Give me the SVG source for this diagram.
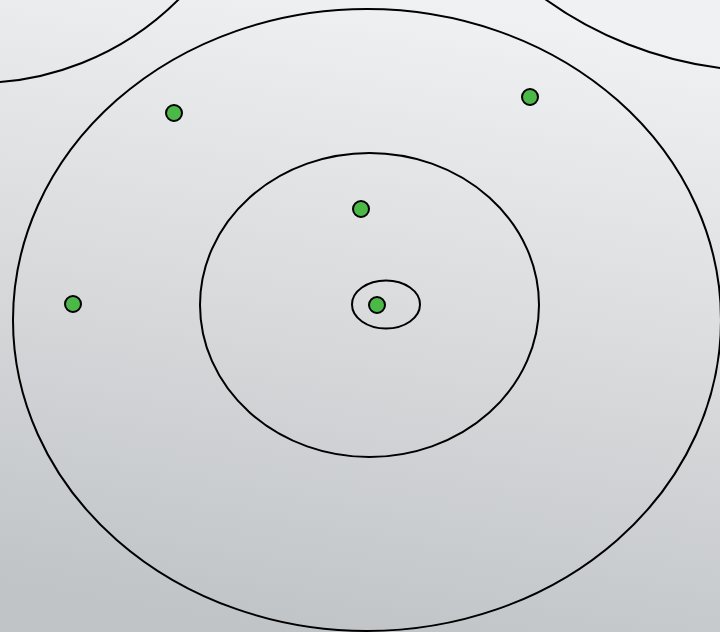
<svg xmlns="http://www.w3.org/2000/svg" width="720" height="632" viewBox="0 0 720 632">
<defs>
<linearGradient id="bg" x1="0.6" y1="0" x2="0.4" y2="1">
<stop offset="0" stop-color="#f0f1f2"/>
<stop offset="1" stop-color="#c1c4c7"/>
</linearGradient>
<style>
.ring{fill:none;stroke:#000;stroke-width:2}
.dot{fill:#4cb848;stroke:#000;stroke-width:2}
</style>
</defs>
<rect width="720" height="632" fill="url(#bg)"/>
<g id="rings">
<circle id="arc-tl" class="ring" cx="-23" cy="-202" r="285"/>
<circle id="arc-tr" class="ring" cx="768" cy="-310" r="381"/>
<ellipse id="outer" class="ring" cx="367" cy="320" rx="354" ry="311"/>
<ellipse id="inner" class="ring" cx="369.5" cy="305" rx="169.5" ry="152"/>
<ellipse id="core" class="ring" cx="386" cy="304.5" rx="34" ry="24"/>
</g>
<g id="dots">
<circle id="d1" class="dot" cx="174" cy="113" r="8"/>
<circle id="d2" class="dot" cx="530" cy="97" r="8"/>
<circle id="d3" class="dot" cx="361" cy="209" r="8"/>
<circle id="d4" class="dot" cx="73" cy="304" r="8"/>
<circle id="d5" class="dot" cx="377" cy="305" r="8"/>
</g>
</svg>
